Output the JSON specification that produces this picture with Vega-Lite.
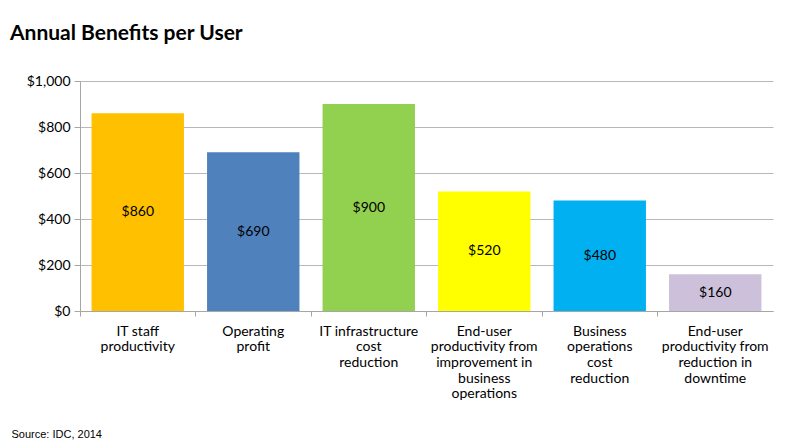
{
  "$schema": "https://vega.github.io/schema/vega-lite/v6.json",
  "width": 693,
  "height": 230,
  "padding": {"left": 10, "top": 23, "right": 28, "bottom": 8},
  "background": "white",
  "config": {"view": {"stroke": null}, "font": "Lato"},
  "title": {
    "text": "Annual Benefits per User",
    "anchor": "start",
    "frame": "bounds",
    "dx": -1,
    "fontSize": 21,
    "fontWeight": "bold",
    "font": "Lato",
    "color": "#000000",
    "offset": 30
  },
  "data": {
    "values": [
      {"cat": "IT staff|productivity", "value": 860, "key": "a"},
      {"cat": "Operating|profit", "value": 690, "key": "b"},
      {"cat": "IT infrastructure|cost|reduction", "value": 900, "key": "c"},
      {"cat": "End-user|productivity  from|improvement  in|business|operations", "value": 520, "key": "d"},
      {"cat": "Business|operations|cost|reduction", "value": 480, "key": "e"},
      {"cat": "End-user|productivity  from|reduction  in|downtime", "value": 160, "key": "f"}
    ]
  },
  "encoding": {
    "x": {
      "field": "cat",
      "type": "nominal",
      "sort": null,
      "scale": {"paddingInner": 0.2, "paddingOuter": 0.1},
      "axis": {
        "title": "Source: IDC, 2014",
        "titleFont": "Liberation Sans",
        "titleFontSize": 11,
        "titleFontWeight": "normal",
        "titleColor": "#000000",
        "titleAnchor": "start",
        "titleAlign": "left",
        "titleX": -69,
        "titleY": 117,
        "labelAngle": 0,
        "labelExpr": "split(datum.label, '|')",
        "labelFontSize": 14,
        "labelColor": "#000000",
        "labelPadding": 8,
        "labelLineHeight": 15.7,
        "labelBaseline": "top",
        "bandPosition": -0.125,
        "domainColor": "#a6a6a6",
        "tickColor": "#a6a6a6",
        "tickSize": 5
      }
    }
  },
  "layer": [
    {
      "mark": {"type": "bar"},
      "encoding": {
        "y": {
          "field": "value",
          "type": "quantitative",
          "scale": {"domain": [0, 1000]},
          "axis": {
            "title": null,
            "values": [0, 200, 400, 600, 800, 1000],
            "format": "$,.0f",
            "labelFontSize": 14,
            "labelColor": "#000000",
            "labelPadding": 4,
            "gridColor": "#b8b8b8",
            "domainColor": "#a6a6a6",
            "tickColor": "#a6a6a6",
            "tickSize": 6
          }
        },
        "color": {
          "field": "key",
          "type": "nominal",
          "legend": null,
          "scale": {
            "domain": ["a", "b", "c", "d", "e", "f"],
            "range": ["#FFC000", "#4F81BD", "#92D050", "#FFFF00", "#00B0F0", "#CCC0DA"]
          }
        }
      }
    },
    {
      "transform": [{"calculate": "datum.value / 2", "as": "mid"}],
      "mark": {"type": "text", "fontSize": 14, "color": "#000000", "font": "Lato"},
      "encoding": {
        "y": {"field": "mid", "type": "quantitative"},
        "text": {"field": "value", "type": "quantitative", "format": "$,.0f"}
      }
    }
  ]
}
